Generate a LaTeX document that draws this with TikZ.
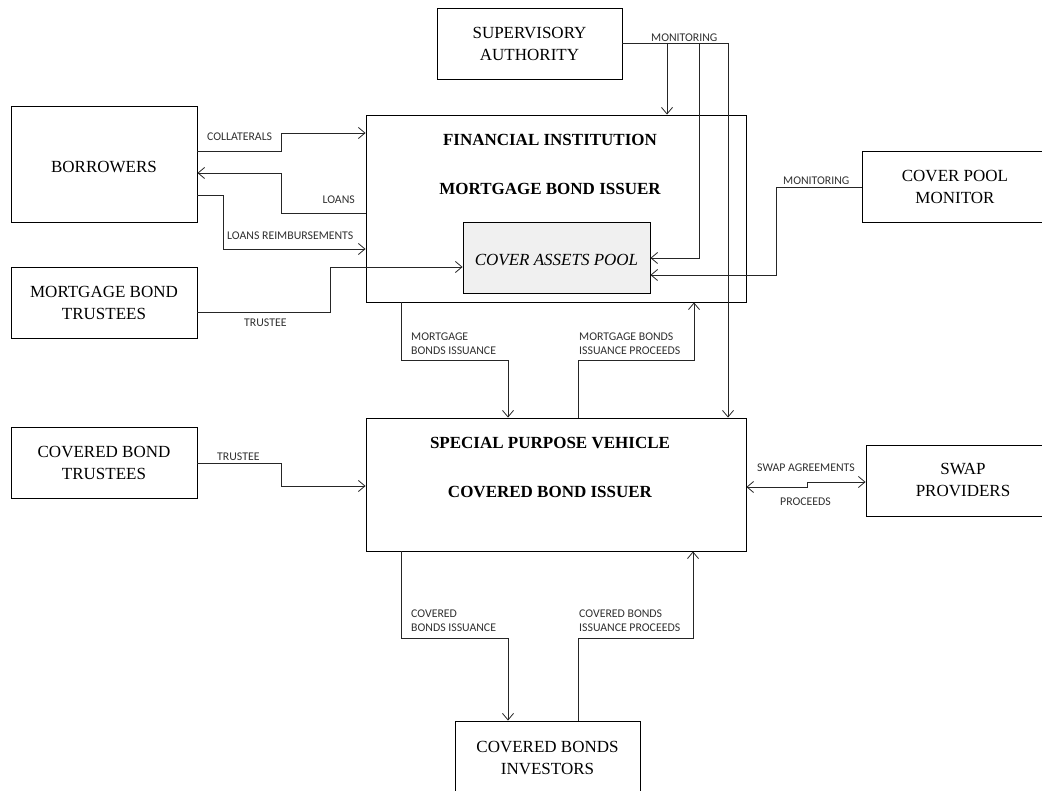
\documentclass[tikz,border=0pt]{standalone}
\usepackage{fontspec}
\setmainfont{Liberation Serif}
\newfontfamily\labfont{Carlito}
\usetikzlibrary{arrows.meta}
\definecolor{poolfill}{HTML}{F0F0F0}
\definecolor{labcol}{HTML}{303030}
\begin{document}
\begin{tikzpicture}[x=1pt,y=-1pt,
  box/.style={draw=black,line width=0.9pt,fill=white,inner sep=0pt,align=center,
    font=\fontsize{17}{22}\selectfont},
  ttl/.style={font=\fontsize{17}{20}\selectfont\bfseries,inner sep=0pt},
  lab/.style={font=\labfont\fontsize{11.8}{14}\selectfont,text=labcol,inner sep=0pt,align=left},
  conn/.style={line width=0.8pt,draw=black!85},
  arr/.style={conn,-{Straight Barb[length=6.5pt,width=11pt]}},
  arrb/.style={conn,{Straight Barb[length=6.5pt,width=11pt]}-{Straight Barb[length=6.5pt,width=11pt]}}]
\useasboundingbox (0,0) rectangle (1042,791);
% boxes
\node[box,minimum width=185pt,minimum height=71pt] (sa) at (529.5,43.5) {SUPERVISORY\\AUTHORITY};
\node[box,minimum width=186pt,minimum height=116pt] (bor) at (104,164) {};
\node[font=\fontsize{17}{22}\selectfont,inner sep=0pt] (bort) at (104,167) {BORROWERS};
\node[box,minimum width=380pt,minimum height=187pt] (fi) at (556,208.5) {};
\node[ttl] (fit1) at (550,140) {FINANCIAL INSTITUTION};
\node[ttl] (fit2) at (550,189) {MORTGAGE BOND ISSUER};
\node[box,fill=poolfill,minimum width=187pt,minimum height=71pt] (pool) at (556.5,257.5) {};
\node[font=\fontsize{17}{22}\selectfont\itshape,inner sep=0pt] (poolt) at (556.5,260) {COVER ASSETS POOL};
\node[box,minimum width=186pt,minimum height=71pt] (cpm) at (955,186.5) {COVER POOL\\MONITOR};
\node[box,minimum width=186pt,minimum height=71pt] (mbt) at (104,302.5) {MORTGAGE BOND\\TRUSTEES};
\node[box,minimum width=186pt,minimum height=71pt] (cbt) at (104,462.5) {COVERED BOND\\TRUSTEES};
\node[box,minimum width=380pt,minimum height=133pt] (spv) at (556,484.5) {};
\node[ttl] (spvt1) at (550,443) {SPECIAL PURPOSE VEHICLE};
\node[ttl] (spvt2) at (550,492) {COVERED BOND ISSUER};
\node[box,minimum width=194pt,minimum height=71pt] (swap) at (963,480.5) {SWAP\\PROVIDERS};
\node[box,minimum width=185pt,minimum height=73pt] (cbi) at (547.5,757.5) {COVERED BONDS\\INVESTORS};
% connectors
\draw[arr] (bor.east |- 0,151) -- (281,151) -- (281,133) -- (fi.west |- 0,133);
\draw[arr] (fi.west |- 0,213) -- (281,213) -- (281,173) -- (bor.east |- 0,173);
\draw[arr] (bor.east |- 0,195) -- (223,195) -- (223,249) -- (fi.west |- 0,249);
\draw[arr] (mbt.east |- 0,312) -- (330,312) -- (330,267) -- (pool.west |- 0,267);
\coordinate (mj) at (728,43);
\draw[conn] (sa.east |- 0,43) -- (mj);
\draw[arr] (mj) -- (spv.north -| mj);
\draw[arr] (667,43) -- (fi.north -| 667,0);
\draw[arr] (699,43) -- (699,258) -- (pool.east |- 0,258);
\draw[arr] (cpm.west |- 0,187) -- (776,187) -- (776,275) -- (pool.east |- 0,275);
\draw[arr] (fi.south -| 401,0) -- (401,360) -- (508,360) -- (spv.north -| 508,0);
\draw[arr] (spv.north -| 578,0) -- (578,360) -- (694,360) -- (fi.south -| 694,0);
\draw[arr] (cbt.east |- 0,463) -- (281,463) -- (281,486) -- (spv.west |- 0,486);
\draw[arrb] (spv.east |- 0,487) -- (807,487) -- (807,482) -- (swap.west |- 0,482);
\draw[arr] (spv.south -| 401,0) -- (401,638) -- (508,638) -- (cbi.north -| 508,0);
\draw[arr] (cbi.north -| 578,0) -- (578,638) -- (693,638) -- (spv.south -| 693,0);
% labels
\node[lab,anchor=west] (l1) at (207,137) {COLLATERALS};
\node[lab,anchor=east] (l2) at (355,200) {LOANS};
\node[lab,anchor=west] (l3) at (227,236) {LOANS REIMBURSEMENTS};
\node[lab,anchor=west] (l4) at (244,323) {TRUSTEE};
\node[lab,anchor=west] (l5) at (651,38) {MONITORING};
\node[lab,anchor=west] (l6) at (783,181) {MONITORING};
\node[lab,anchor=west] (l7) at (411,344) {MORTGAGE\\BONDS ISSUANCE};
\node[lab,anchor=west] (l8) at (579,344) {MORTGAGE BONDS\\ISSUANCE PROCEEDS};
\node[lab,anchor=west] (l9) at (217,457) {TRUSTEE};
\node[lab,anchor=west] (l10) at (757,468) {SWAP AGREEMENTS};
\node[lab,anchor=west] (l11) at (780,502) {PROCEEDS};
\node[lab,anchor=west] (l12) at (411,621) {COVERED\\BONDS ISSUANCE};
\node[lab,anchor=west] (l13) at (579,621) {COVERED BONDS\\ISSUANCE PROCEEDS};
\end{tikzpicture}
\end{document}
